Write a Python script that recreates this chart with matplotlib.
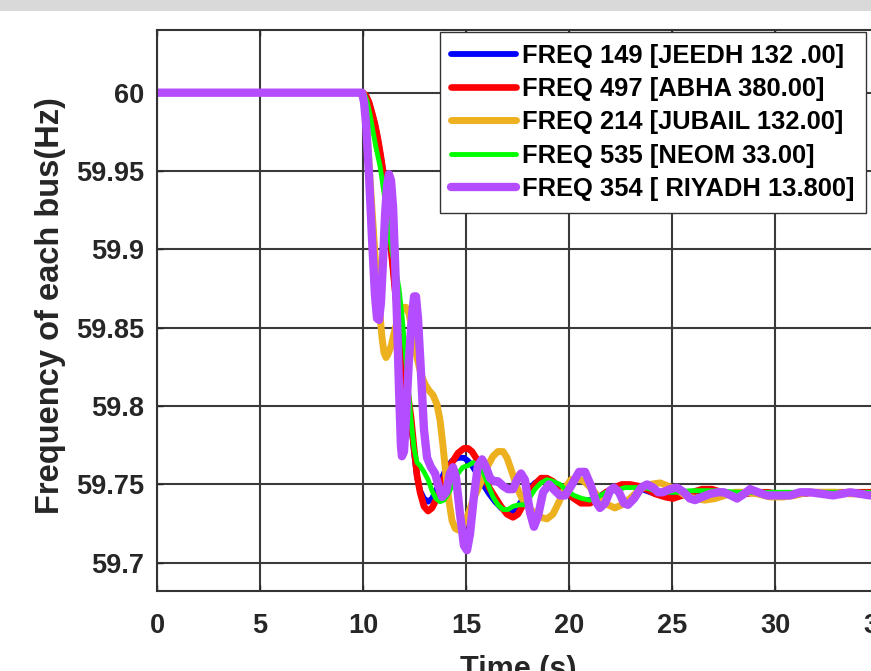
import matplotlib.pyplot as plt
from matplotlib.patches import Rectangle

plt.rcParams['font.family'] = ['Liberation Sans', 'DejaVu Sans']
plt.rcParams['font.weight'] = 'bold'

# bus frequency (Hz) after the disturbance at t = 10 s
t_jeedh = [0, 10.00, 10.15, 10.29, 10.44, 10.58, 10.73, 10.87, 11.02, 11.17, 11.31,
           11.46, 11.60, 11.75, 11.89, 12.04, 12.18, 12.33, 12.48, 12.62, 12.77,
           12.96, 13.16, 13.35, 13.54, 13.79, 14.03, 14.32, 14.61, 14.90, 15.10,
           15.29, 15.53, 15.83, 16.12, 16.41, 16.70, 16.99, 17.28, 17.52, 17.77,
           18.06, 18.35, 18.64, 18.93, 19.22, 19.56, 19.90, 20.24, 20.58, 21.02,
           21.41, 21.80, 22.18, 22.57, 22.96, 23.35, 23.74, 24.18, 24.66, 25.05,
           25.49, 25.97, 26.46, 26.94, 27.43, 27.96, 28.54, 29.13, 29.66, 30.39,
           31.21, 32.04, 32.91, 33.64, 34.37, 35.0]
f_jeedh = [60, 60, 59.998, 59.994, 59.987, 59.980, 59.970, 59.959, 59.946, 59.929, 59.907,
           59.887, 59.868, 59.849, 59.831, 59.818, 59.806, 59.790, 59.770, 59.755, 59.746,
           59.741, 59.739, 59.741, 59.746, 59.753, 59.760, 59.765, 59.767, 59.767, 59.765,
           59.762, 59.757, 59.750, 59.744, 59.739, 59.735, 59.733, 59.733, 59.736, 59.741,
           59.747, 59.751, 59.753, 59.752, 59.750, 59.747, 59.744, 59.741, 59.740, 59.740,
           59.742, 59.745, 59.747, 59.749, 59.749, 59.748, 59.746, 59.744, 59.743, 59.742,
           59.743, 59.745, 59.746, 59.746, 59.745, 59.744, 59.744, 59.745, 59.745, 59.744,
           59.744, 59.745, 59.745, 59.744, 59.745, 59.744]

t_abha = [0, 10.00, 10.15, 10.29, 10.44, 10.58, 10.73, 10.87, 11.02, 11.17, 11.31,
          11.46, 11.60, 11.75, 11.89, 12.04, 12.18, 12.33, 12.48, 12.62, 12.77,
          12.96, 13.16, 13.35, 13.54, 13.79, 14.03, 14.32, 14.61, 14.90, 15.10,
          15.29, 15.53, 15.83, 16.12, 16.41, 16.70, 16.99, 17.28, 17.52, 17.77,
          18.06, 18.35, 18.64, 18.93, 19.22, 19.56, 19.90, 20.24, 20.58, 21.02,
          21.41, 21.80, 22.18, 22.57, 22.96, 23.35, 23.74, 24.18, 24.66, 25.05,
          25.49, 25.97, 26.46, 26.94, 27.43, 27.96, 28.54, 29.13, 29.66, 30.39,
          31.21, 32.04, 32.91, 33.64, 34.37, 35.0]
f_abha = [60, 60, 59.998, 59.994, 59.987, 59.980, 59.970, 59.959, 59.946, 59.929, 59.907,
          59.887, 59.868, 59.849, 59.831, 59.818, 59.807, 59.793, 59.773, 59.756, 59.745,
          59.736, 59.733, 59.735, 59.740, 59.748, 59.757, 59.764, 59.770, 59.773, 59.773,
          59.771, 59.766, 59.757, 59.748, 59.742, 59.736, 59.731, 59.729, 59.731, 59.737,
          59.745, 59.750, 59.754, 59.754, 59.752, 59.748, 59.745, 59.741, 59.738, 59.738,
          59.741, 59.745, 59.748, 59.750, 59.750, 59.749, 59.747, 59.744, 59.742, 59.741,
          59.743, 59.745, 59.747, 59.747, 59.745, 59.743, 59.744, 59.745, 59.745, 59.743,
          59.744, 59.745, 59.745, 59.745, 59.745, 59.745]

t_jubail = [0, 10.00, 10.10, 10.19, 10.39, 10.58, 10.78, 10.92, 11.02, 11.12, 11.21,
            11.36, 11.55, 11.75, 11.94, 12.09, 12.23, 12.43, 12.62, 12.82, 13.01,
            13.20, 13.40, 13.59, 13.74, 13.88, 14.03, 14.18, 14.32, 14.47, 14.61,
            14.81, 15.05, 15.34, 15.68, 16.02, 16.31, 16.55, 16.80, 16.99, 17.23,
            17.48, 17.72, 18.01, 18.30, 18.64, 18.93, 19.22, 19.52, 19.81, 20.10,
            20.39, 20.73, 21.12, 21.50, 21.89, 22.23, 22.57, 22.96, 23.45, 23.93,
            24.42, 24.81, 25.19, 25.63, 26.12, 26.60, 27.09, 27.57, 28.06, 28.54,
            29.13, 29.76, 30.39, 30.97, 31.60, 32.18, 32.91, 33.64, 35.0]
f_jubail = [60, 60, 59.992, 59.976, 59.935, 59.897, 59.865, 59.844, 59.834, 59.831, 59.833,
            59.838, 59.849, 59.858, 59.863, 59.863, 59.859, 59.846, 59.831, 59.820, 59.814,
            59.810, 59.807, 59.801, 59.791, 59.775, 59.756, 59.739, 59.727, 59.722, 59.721,
            59.723, 59.729, 59.740, 59.750, 59.761, 59.768, 59.771, 59.771, 59.767, 59.758,
            59.748, 59.741, 59.736, 59.732, 59.729, 59.728, 59.731, 59.739, 59.748, 59.753,
            59.754, 59.752, 59.747, 59.741, 59.737, 59.735, 59.737, 59.741, 59.747, 59.750,
            59.751, 59.749, 59.747, 59.743, 59.741, 59.740, 59.741, 59.743, 59.745, 59.745,
            59.744, 59.742, 59.742, 59.743, 59.745, 59.745, 59.745, 59.744, 59.744]

t_neom = [0, 10.00, 10.10, 10.19, 10.34, 10.49, 10.63, 10.83, 11.02, 11.21, 11.41,
          11.60, 11.75, 11.89, 12.04, 12.18, 12.33, 12.48, 12.62, 12.77, 12.96,
          13.16, 13.35, 13.54, 13.74, 13.93, 14.13, 14.37, 14.61, 14.85, 15.10,
          15.34, 15.58, 15.83, 16.07, 16.31, 16.55, 16.80, 17.04, 17.28, 17.57,
          17.86, 18.11, 18.35, 18.64, 18.93, 19.22, 19.56, 19.90, 20.24, 20.63,
          21.02, 21.41, 21.80, 22.23, 22.72, 23.20, 23.69, 24.18, 24.66, 25.24,
          25.87, 26.50, 27.23, 28.16, 29.27, 30.39, 31.70, 33.16, 35.0]
f_neom = [60, 60, 59.998, 59.995, 59.986, 59.975, 59.965, 59.953, 59.936, 59.916, 59.898,
          59.886, 59.875, 59.858, 59.836, 59.814, 59.791, 59.773, 59.764, 59.762, 59.758,
          59.753, 59.746, 59.741, 59.739, 59.740, 59.744, 59.750, 59.757, 59.761, 59.762,
          59.764, 59.762, 59.758, 59.750, 59.742, 59.737, 59.734, 59.734, 59.736, 59.737,
          59.737, 59.742, 59.747, 59.751, 59.753, 59.752, 59.750, 59.746, 59.743, 59.741,
          59.740, 59.742, 59.745, 59.746, 59.748, 59.748, 59.748, 59.746, 59.745, 59.745,
          59.746, 59.746, 59.746, 59.745, 59.745, 59.745, 59.745, 59.745, 59.745]

t_riyadh = [0, 9.95, 10.05, 10.15, 10.29, 10.44, 10.58, 10.68, 10.78, 10.87, 10.97,
            11.07, 11.17, 11.26, 11.36, 11.46, 11.55, 11.65, 11.75, 11.84, 11.89,
            11.99, 12.09, 12.23, 12.38, 12.48, 12.57, 12.67, 12.82, 12.96, 13.11,
            13.30, 13.50, 13.69, 13.84, 14.03, 14.22, 14.37, 14.52, 14.71, 14.90,
            15.05, 15.19, 15.39, 15.58, 15.78, 15.97, 16.17, 16.36, 16.55, 16.80,
            17.04, 17.28, 17.48, 17.67, 17.86, 18.11, 18.30, 18.50, 18.74, 19.03,
            19.32, 19.56, 19.81, 20.10, 20.49, 20.78, 21.07, 21.31, 21.50, 21.75,
            21.99, 22.18, 22.43, 22.67, 22.86, 23.16, 23.50, 23.79, 24.08, 24.32,
            24.56, 24.90, 25.24, 25.58, 25.87, 26.12, 26.46, 26.85, 27.23, 27.52,
            27.86, 28.16, 28.50, 28.79, 29.18, 29.61, 30.15, 30.73, 31.21, 31.70,
            32.28, 32.82, 33.25, 33.64, 34.13, 34.61, 35.0]
f_riyadh = [60, 60, 59.994, 59.980, 59.948, 59.906, 59.871, 59.856, 59.855, 59.866, 59.892,
            59.922, 59.941, 59.948, 59.944, 59.927, 59.895, 59.856, 59.810, 59.775, 59.768,
            59.771, 59.793, 59.830, 59.858, 59.870, 59.870, 59.856, 59.820, 59.785, 59.767,
            59.761, 59.757, 59.748, 59.742, 59.745, 59.757, 59.761, 59.754, 59.731, 59.711,
            59.708, 59.718, 59.743, 59.762, 59.766, 59.761, 59.754, 59.752, 59.752, 59.749,
            59.747, 59.747, 59.753, 59.757, 59.753, 59.732, 59.723, 59.730, 59.745, 59.750,
            59.746, 59.743, 59.743, 59.749, 59.758, 59.758, 59.749, 59.739, 59.735, 59.738,
            59.746, 59.748, 59.745, 59.738, 59.737, 59.741, 59.748, 59.750, 59.748, 59.745,
            59.745, 59.747, 59.748, 59.745, 59.741, 59.740, 59.742, 59.744, 59.745, 59.745,
            59.743, 59.741, 59.744, 59.747, 59.745, 59.743, 59.743, 59.743, 59.745, 59.745,
            59.744, 59.743, 59.744, 59.745, 59.744, 59.743, 59.744]

labels = ['FREQ 149 [JEEDH 132 .00]', 'FREQ 497 [ABHA 380.00]',
          'FREQ 214 [JUBAIL 132.00]', 'FREQ 535 [NEOM 33.00]',
          'FREQ 354 [ RIYADH 13.800]']

yticks = [59.7, 59.75, 59.8, 59.85, 59.9, 59.95, 60]
ytick_labels = ['59.7', '59.75', '59.8', '59.85', '59.9', '59.95', '60']

fig = plt.figure(figsize=(8.71, 6.71), dpi=100)
fig.patches.append(Rectangle((0, 1 - 11 / 671), 1, 11 / 671, transform=fig.transFigure,
                             facecolor='#d9d9d9', edgecolor='none', zorder=0))
ax = fig.add_axes([157 / 871, 80 / 671, 721 / 871, 561 / 671])

style = dict(solid_joinstyle='round', solid_capstyle='round')
ax.plot(t_jeedh, f_jeedh, color='#0000ff', lw=4.2, label=labels[0], **style)
ax.plot(t_abha, f_abha, color='#ff0000', lw=4.8, label=labels[1], **style)
ax.plot(t_jubail, f_jubail, color='#edb120', lw=5.0, label=labels[2], **style)
ax.plot(t_neom, f_neom, color='#00ff00', lw=3.5, label=labels[3], **style)
ax.plot(t_riyadh, f_riyadh, color='#b44cff', lw=6.0, label=labels[4], **style)

ax.set_xlim(0, 35)
ax.set_ylim(59.682, 60.040)
ax.set_xticks(range(0, 36, 5))
ax.set_yticks(yticks)
ax.set_yticklabels(ytick_labels)
ax.tick_params(direction='in', length=4, width=1, top=True, right=True,
               labelsize=19.5, colors='#262626')
ax.tick_params(axis='y', pad=9)
ax.tick_params(axis='x', pad=16)
for s in ax.spines.values():
    s.set_color('#333333')
    s.set_linewidth(1.5)
ax.grid(True, color='#3a3a3a', lw=1.5)

fig.text(50 / 871, 1 - 306 / 671, 'Frequency of each bus(Hz)', rotation=90,
         ha='center', va='center', fontsize=23.5, color='#262626')
fig.text(518 / 871, 1 - 655 / 671, 'Time (s)', ha='center', va='top',
         fontsize=22, color='#262626')

leg = ax.legend(loc='upper right', bbox_to_anchor=(866 / 871, 1 - 32 / 671),
                bbox_transform=fig.transFigure, borderaxespad=0, fontsize=18.4,
                fancybox=False, framealpha=1, edgecolor='#333333',
                handlelength=2.55, handletextpad=0.23, labelspacing=0.37,
                borderpad=0.45)
leg.get_frame().set_linewidth(1)

plt.savefig('out.png', dpi=100)
